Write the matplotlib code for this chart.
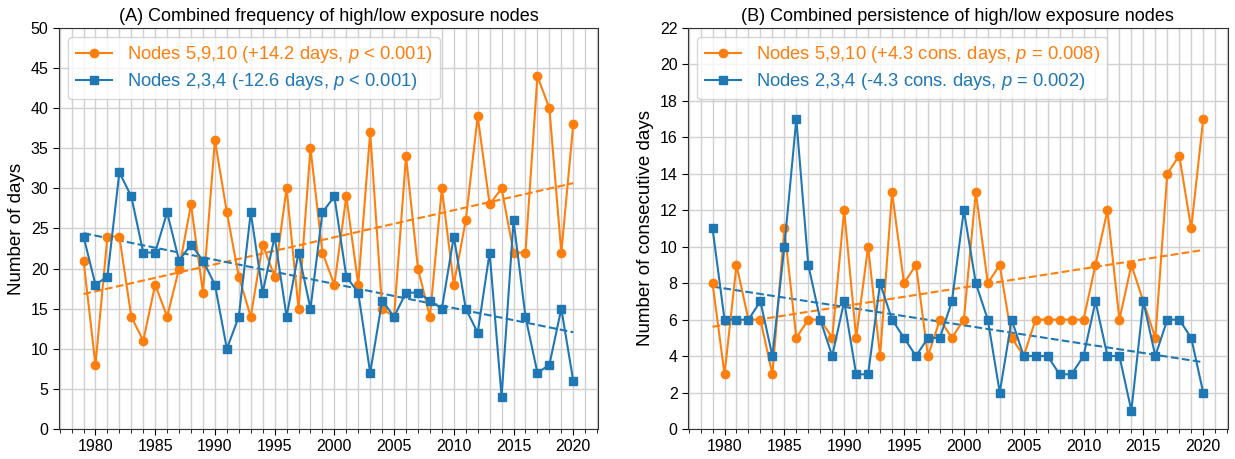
import numpy as np
import matplotlib
matplotlib.use("Agg")
import matplotlib.pyplot as plt
from matplotlib.ticker import MultipleLocator

years = list(range(1979, 2021))

freq_high = [21, 8, 24, 24, 14, 11, 18, 14, 20, 28, 17, 36, 27, 19, 14, 23, 19, 30, 15, 35,
             22, 18, 29, 18, 37, 15, 14, 34, 20, 14, 30, 18, 26, 39, 28, 30, 22, 22, 44, 40,
             22, 38]
freq_low = [24, 18, 19, 32, 29, 22, 22, 27, 21, 23, 21, 18, 10, 14, 27, 17, 24, 14, 22, 15,
            27, 29, 19, 17, 7, 16, 14, 17, 17, 16, 15, 24, 15, 12, 22, 4, 26, 14, 7, 8,
            15, 6]

pers_high = [8, 3, 9, 6, 6, 3, 11, 5, 6, 6, 5, 12, 5, 10, 4, 13, 8, 9, 4, 6,
             5, 6, 13, 8, 9, 5, 4, 6, 6, 6, 6, 6, 9, 12, 6, 9, 7, 5, 14, 15,
             11, 17]
pers_low = [11, 6, 6, 6, 7, 4, 10, 17, 9, 6, 4, 7, 3, 3, 8, 6, 5, 4, 5, 5,
            7, 12, 8, 6, 2, 6, 4, 4, 4, 3, 3, 4, 7, 4, 4, 1, 7, 4, 6, 6,
            5, 2]

labels_A = [r"Nodes 5,9,10 (+14.2 days, $p$ < 0.001)",
            r"Nodes 2,3,4 (-12.6 days, $p$ < 0.001)"]
labels_B = [r"Nodes 5,9,10 (+4.3 cons. days, $p$ = 0.008)",
            r"Nodes 2,3,4 (-4.3 cons. days, $p$ = 0.002)"]
titles = ["(A) Combined frequency of high/low exposure nodes",
          "(B) Combined persistence of high/low exposure nodes"]
ylabels = ["Number of days", "Number of consecutive days"]

plt.rcParams['font.family'] = ['Liberation Sans', 'DejaVu Sans']
plt.rcParams['mathtext.fontset'] = 'custom'
plt.rcParams['mathtext.rm'] = 'Liberation Sans'
plt.rcParams['mathtext.it'] = 'Liberation Sans:italic'

ORANGE = '#ff7f0e'
BLUE = '#1f77b4'

fig = plt.figure(figsize=(12.35, 4.59), dpi=100)
axA = fig.add_axes([0.0478, 0.0654, 0.4362, 0.8736])
axB = fig.add_axes([0.5571, 0.0654, 0.4370, 0.8736])

x = np.array(years)

def panel(ax, hi, lo, labels, title, ylabel, ymax, ystep):
    ax.plot(x, hi, '-o', color=ORANGE, lw=1.5, ms=6, label=labels[0], zorder=3)
    ax.plot(x, lo, '-s', color=BLUE, lw=1.5, ms=6, label=labels[1], zorder=3)
    for s, c in ((hi, ORANGE), (lo, BLUE)):
        k, b = np.polyfit(x, np.array(s, float), 1)
        ax.plot(x, k * x + b, '--', color=c, lw=1.5, zorder=2)
    ax.set_ylim(0, ymax)
    ax.yaxis.set_major_locator(MultipleLocator(ystep))
    ax.xaxis.set_major_locator(MultipleLocator(5))
    ax.xaxis.set_minor_locator(MultipleLocator(1))
    ax.grid(True, which='both', axis='x', color='#d0d0d0', lw=1.0, zorder=0)
    ax.grid(True, which='major', axis='y', color='#d0d0d0', lw=1.0, zorder=0)
    ax.set_axisbelow(True)
    ax.tick_params(axis='both', which='major', labelsize=11.5, length=4)
    ax.tick_params(axis='x', which='minor', length=3)
    ax.set_title(title, fontsize=13, pad=5)
    ax.set_ylabel(ylabel, fontsize=13.5, labelpad=4)
    for sp in ax.spines.values():
        sp.set_color('#333333')
    ax.legend(loc='upper left', fontsize=13.2, labelcolor='linecolor',
              handlelength=2.0, borderpad=0.4, labelspacing=0.3)

panel(axA, freq_high, freq_low, labels_A, titles[0], ylabels[0], 50, 5)
panel(axB, pers_high, pers_low, labels_B, titles[1], ylabels[1], 22, 2)

fig.savefig("out.png", dpi=100)
